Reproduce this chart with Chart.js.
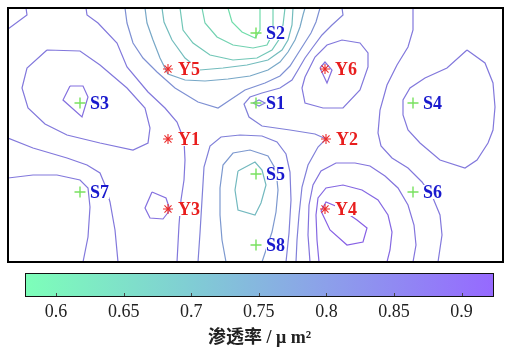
<!DOCTYPE html>
<html>
<head>
<meta charset="utf-8">
<script src="https://cdn.jsdelivr.net/npm/chart.js@4"></script>
<style>
html, body { margin: 0; padding: 0; background: #fff; }
#wrap { position: relative; width: 506px; height: 348px; }
#map { position: absolute; left: 0; top: 0; }
#bar { position: absolute; left: 0; top: 266px; }
</style>
</head>
<body>
<div id="wrap">
  <canvas id="map" width="506" height="266"></canvas>
  <canvas id="bar" width="506" height="82"></canvas>
</div>
<script>
// wells (map units, y grows downward)
const sNames = ["S1", "S2", "S3", "S4", "S5", "S6", "S7", "S8"];
const sX = [248, 248, 72, 405, 248, 405, 72, 248];
const sY = [95, 25, 95, 95, 166, 184, 184, 237];

const yNames = ["Y1", "Y2", "Y3", "Y4", "Y5", "Y6"];
const yX = [160, 318, 160, 317, 160, 317];
const yY = [131, 131, 201, 201, 61, 61];

const cS2a = [[220,0],[224,14],[234,24],[247,30],[252,22],[252,0]];
const cS2b = [[194,0],[197,15],[209,29],[225,37],[245,40],[259,37],[265,25],[265,0]];
const cS2c = [[172,0],[175,22],[185,35],[202,47],[225,52],[249,50],[264,42],[272,30],[275,17],[277,0]];
const cS2d = [[154,0],[156,14],[164,32],[177,50],[192,62],[215,60],[239,57],[260,52],[274,42],[280,32],[284,17],[285,0]];
const cS2e = [[137,0],[139,15],[145,32],[152,50],[160,66],[177,72],[197,73],[220,71],[242,68],[260,62],[272,54],[280,44],[287,32],[292,19],[295,7],[297,0]];
const cS2f = [[117,0],[119,15],[125,35],[135,50],[149,64],[167,80],[190,94],[210,100],[222,92],[237,82],[257,75],[272,68],[282,58],[289,47],[296,36],[303,25],[308,14],[312,0]];
const cS1 = [[334,0],[335,7],[324,17],[314,27],[305,39],[297,50],[290,62],[284,72],[272,80],[254,85],[242,89],[236,96],[241,109],[254,118],[282,122],[307,126],[318,131],[310,139],[300,157],[294,179],[291,207],[289,232],[288,254]];
const cS1dia = [[245,95],[251,92],[257,95],[251,98],[245,95]];
const cY6a = [[297,69],[294,80],[297,95],[315,100],[335,100],[352,82],[360,59],[360,45],[352,35],[334,32],[319,37],[307,49],[297,69]];
const cY6b = [[312,60],[317,54],[324,62],[319,75],[312,60]];
const cS3a = [[39,42],[72,43],[92,57],[119,80],[137,100],[142,120],[140,135],[125,142],[92,135],[59,127],[37,116],[20,100],[14,80],[19,60],[39,42]];
const cS3b = [[62,78],[75,78],[80,89],[74,109],[55,92],[62,78]];
const cCorner = [[18,0],[19,7],[0,21]];
const cY1 = [[78,0],[79,7],[90,15],[109,35],[119,59],[140,84],[157,100],[169,114],[176,132],[177,152],[176,172],[173,192],[171,217],[169,254]];
const cS7a = [[0,130],[25,140],[59,150],[79,157],[92,165],[97,177],[102,194],[107,222],[110,254]];
const cS7b = [[0,170],[25,167],[49,167],[72,172],[80,180],[82,199],[80,229],[75,254]];
const cY3 = [[144,184],[158,190],[162,202],[155,211],[142,210],[137,200],[144,184]];
const cS5a = [[230,163],[247,154],[254,162],[258,177],[253,195],[247,207],[230,202],[227,182],[230,163]];
const cS5b = [[218,254],[214,232],[212,207],[212,180],[215,157],[225,145],[242,142],[260,148],[268,162],[270,182],[268,204],[264,224],[258,242],[254,254]];
const cS5c = [[190,254],[192,225],[194,192],[196,159],[202,138],[213,129],[232,127],[254,128],[269,134],[278,146],[282,164],[283,192],[281,225],[278,254]];
const cY4a = [[302,254],[300,227],[301,197],[305,177],[313,163],[328,155],[347,155],[362,158],[377,168],[390,180],[400,197],[406,217],[408,237],[405,254]];
const cY4b = [[311,254],[309,232],[308,207],[310,190],[318,180],[335,177],[354,182],[370,192],[380,207],[384,224],[382,242],[379,254]];
const cY4c = [[313,203],[318,194],[330,199],[349,212],[359,220],[355,234],[339,237],[322,222],[313,203]];
const cS4 = [[459,42],[477,55],[485,75],[487,99],[485,122],[480,135],[469,152],[457,160],[432,152],[412,135],[400,122],[395,107],[395,92],[402,80],[417,70],[439,60],[459,42]];
const cS6 = [[405,0],[405,22],[400,39],[389,57],[379,77],[372,102],[370,125],[373,138],[384,150],[400,160],[414,174],[425,190],[432,207],[434,227],[430,254]];

const contourLines = [cS2a, cS2b, cS2c, cS2d, cS2e, cS2f, cS1, cS1dia, cY6a, cY6b, cS3a, cS3b, cCorner, cY1, cS7a, cS7b, cY3, cS5a, cS5b, cS5c, cY4a, cY4b, cY4c, cS4, cS6];
const contourLevels = [0.60, 0.63, 0.66, 0.69, 0.74, 0.80, 0.84, 0.84, 0.86, 0.88, 0.86, 0.88, 0.86, 0.86, 0.86, 0.86, 0.88, 0.70, 0.78, 0.84, 0.87, 0.90, 0.92, 0.86, 0.86];

// colour bar
const colorTicks = [0.6, 0.65, 0.7, 0.75, 0.8, 0.85, 0.9];
const cbMin = 0.577, cbMax = 0.924;
const cmapValues = [0.577, 0.7, 0.8, 0.924];
const cmapColors = [[125,255,185],[128,205,212],[140,160,234],[150,105,255]];

function colorAt(v, shade) {
  let i = 0;
  while (i < cmapValues.length - 2 && v > cmapValues[i + 1]) i++;
  const t = Math.max(0, Math.min(1, (v - cmapValues[i]) / (cmapValues[i + 1] - cmapValues[i])));
  const a = cmapColors[i], b = cmapColors[i + 1];
  const c = a.map((x, k) => Math.round((x + (b[k] - x) * t) * shade));
  return `rgb(${c[0]},${c[1]},${c[2]})`;
}

const labelPlugin = {
  id: "wellLabels",
  afterDatasetsDraw(chart) {
    const ctx = chart.ctx;
    ctx.save();
    ctx.font = 'bold 18px "Liberation Serif"';
    ctx.textBaseline = "middle";
    [[0, sNames, "rgb(25,25,205)"], [1, yNames, "rgb(232,30,30)"]].forEach(([di, names, col]) => {
      chart.getDatasetMeta(di).data.forEach((pt, i) => {
        const w = ctx.measureText(names[i]).width;
        const tx = pt.x + 10;
        ctx.fillStyle = "#fff";
        ctx.fillRect(tx, pt.y - 7, w, 14);
        ctx.fillStyle = col;
        ctx.fillText(names[i], tx, pt.y + 1);
      });
    });
    const a = chart.chartArea;
    ctx.strokeStyle = "#000";
    ctx.lineWidth = 2;
    ctx.strokeRect(a.left, a.top, a.right - a.left, a.bottom - a.top);
    ctx.restore();
  }
};

const datasets = [
  {
    data: sX.map((x, i) => ({ x: x, y: sY[i] })),
    pointStyle: "cross", pointRadius: 5.5, pointBorderWidth: 1.4,
    pointBorderColor: "rgb(120,225,95)", showLine: false
  },
  {
    data: yX.map((x, i) => ({ x: x, y: yY[i] })),
    pointStyle: "star", pointRadius: 5, pointBorderWidth: 1.1,
    pointBorderColor: "rgb(235,45,45)", showLine: false
  }
].concat(contourLines.map((pts, i) => ({
  data: pts.map(p => ({ x: p[0], y: p[1] })),
  showLine: true, pointRadius: 0, borderWidth: 1.2,
  borderColor: colorAt(contourLevels[i], contourLevels[i] > 0.77 ? 0.9 : 0.9), tension: 0
})));

new Chart(document.getElementById("map"), {
  type: "scatter",
  data: { datasets: datasets },
  options: {
    responsive: false, animation: false, devicePixelRatio: 1,
    layout: { autoPadding: false, padding: { left: 8, right: 3, top: 8, bottom: 4 } },
    plugins: { legend: { display: false }, tooltip: { enabled: false } },
    events: [],
    scales: {
      x: { type: "linear", min: 0, max: 495, display: false },
      y: { type: "linear", min: 0, max: 254, reverse: true, display: false }
    }
  },
  plugins: [labelPlugin]
});

const cbPlugin = {
  id: "colorBar",
  beforeDatasetsDraw(chart) {
    const ctx = chart.ctx, a = chart.chartArea, sx = chart.scales.x;
    const w = a.right - a.left, h = a.bottom - a.top;
    ctx.save();
    const g = ctx.createLinearGradient(a.left, 0, a.right, 0);
    cmapValues.forEach((v, i) => {
      const c = cmapColors[i];
      g.addColorStop((sx.getPixelForValue(v) - a.left) / w, `rgb(${c[0]},${c[1]},${c[2]})`);
    });
    ctx.fillStyle = g;
    ctx.fillRect(a.left, a.top, w, h);
    ctx.strokeStyle = "#444";
    ctx.lineWidth = 1;
    colorTicks.forEach(v => {
      const x = Math.round(sx.getPixelForValue(v)) + 0.5;
      ctx.beginPath();
      ctx.moveTo(x, a.bottom);
      ctx.lineTo(x, a.bottom - 4);
      ctx.stroke();
    });
    ctx.strokeStyle = "#111";
    ctx.strokeRect(a.left + 0.5, a.top + 0.5, w - 1, h - 1);
    ctx.restore();
  }
};

new Chart(document.getElementById("bar"), {
  type: "scatter",
  data: { datasets: [{ data: [], pointRadius: 0 }] },
  options: {
    responsive: false, animation: false, devicePixelRatio: 1,
    layout: { autoPadding: false, padding: { left: 25, right: 12, top: 7, bottom: 0 } },
    plugins: { legend: { display: false }, tooltip: { enabled: false } },
    events: [],
    scales: {
      x: {
        type: "linear", min: cbMin, max: cbMax, position: "bottom",
        afterBuildTicks: s => { s.ticks = colorTicks.map(v => ({ value: v })); },
        afterFit: s => { s.height = 51; },
        grid: { display: false, drawTicks: false },
        border: { display: false },
        ticks: {
          padding: 4, color: "#222", maxRotation: 0, autoSkip: false,
          font: { family: '"Liberation Serif"', size: 18 },
          callback: v => v.toString()
        },
        title: {
          display: true, text: "渗透率 / μ m²", color: "#222",
          font: { family: '"Liberation Serif", "Noto Sans CJK SC"', size: 18, weight: "bold", lineHeight: 1 },
          padding: { top: 0, bottom: 1 }
        }
      },
      y: { display: false }
    }
  },
  plugins: [cbPlugin]
});
</script>
</body>
</html>
